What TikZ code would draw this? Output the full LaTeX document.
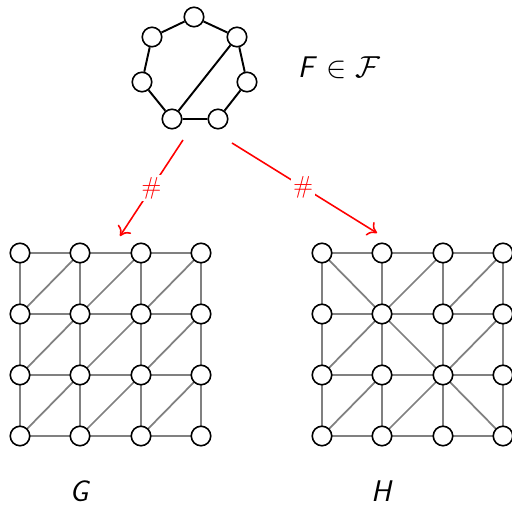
\documentclass[tikz,border=0pt]{standalone}
\usetikzlibrary{arrows.meta}
\begin{document}
\begin{tikzpicture}[x=0.02cm,y=-0.02cm,
  vtx/.style={circle,draw=black,fill=white,line width=0.9pt,minimum size=0.39cm,inner sep=0pt},
  gedge/.style={draw=gray,line width=1pt},
  fedge/.style={draw=black,line width=1.1pt},
  redarrow/.style={draw=red,line width=0.9pt,-{To[length=5pt,width=9pt]}},
  hashlbl/.style={fill=white,text=red,font=\sffamily\fontsize{14}{16}\selectfont,inner sep=1pt},
  biglbl/.style={font=\sffamily\fontsize{17}{20}\selectfont,inner sep=0pt}]
\useasboundingbox (0,0) rectangle (512,507);
% top graph F
\node[vtx] (t) at (194,17) {};
\node[vtx] (ul) at (152,37) {};
\node[vtx] (ur) at (237,37) {};
\node[vtx] (l) at (142,82) {};
\node[vtx] (r) at (247,82) {};
\node[vtx] (bl) at (172,119) {};
\node[vtx] (br) at (218,119) {};
\draw[fedge] (t)--(ul) (ul)--(l) (l)--(bl) (bl)--(br) (br)--(r) (r)--(ur) (ur)--(t) (bl)--(ur);
\node[biglbl] (flbl) at (339,68) {\textit{F} $\in\mathcal{F}$};
% grids
\foreach \i/\x in {0/20,1/80,2/141,3/201} {
  \foreach \j/\y in {0/253,1/314,2/375,3/436} {
    \coordinate (g\i\j) at (\x,\y);
  }
}
\foreach \i/\x in {0/322,1/382,2/443,3/503} {
  \foreach \j/\y in {0/253,1/314,2/375,3/436} {
    \coordinate (h\i\j) at (\x,\y);
  }
}
% grid edges
\foreach \a in {g,h} {
  \foreach \j in {0,1,2,3} {
    \draw[gedge] (\a0\j)--(\a1\j)--(\a2\j)--(\a3\j);
    \draw[gedge] (\a\j0)--(\a\j1)--(\a\j2)--(\a\j3);
  }
}
% G diagonals (all /)
\foreach \i/\k in {0/1,1/2,2/3} {
  \foreach \j/\m in {0/1,1/2,2/3} {
    \draw[gedge] (g\i\m)--(g\k\j);
  }
}
% H diagonals
\draw[gedge] (h00)--(h11);
\draw[gedge] (h11)--(h20);
\draw[gedge] (h21)--(h30);
\draw[gedge] (h02)--(h11);
\draw[gedge] (h11)--(h22);
\draw[gedge] (h22)--(h31);
\draw[gedge] (h03)--(h12);
\draw[gedge] (h13)--(h22);
\draw[gedge] (h22)--(h33);
% grid vertices
\foreach \a in {g,h} {
  \foreach \i in {0,1,2,3} {
    \foreach \j in {0,1,2,3} {
      \node[vtx] (\a v\i\j) at (\a\i\j) {};
    }
  }
}
% arrows
\coordinate (a1s) at (183,140);
\coordinate (a1e) at (120,236);
\coordinate (a2s) at (232,143);
\coordinate (a2e) at (377,233);
\draw[redarrow] (a1s) -- node[hashlbl,pos=0.5] {\#} (a1e);
\draw[redarrow] (a2s) -- node[hashlbl,pos=0.49] {\#} (a2e);
% labels
\node[biglbl] (glbl) at (80,491) {\textit{G}};
\node[biglbl] (hlbl) at (382,491) {\textit{H}};
\end{tikzpicture}
\end{document}
